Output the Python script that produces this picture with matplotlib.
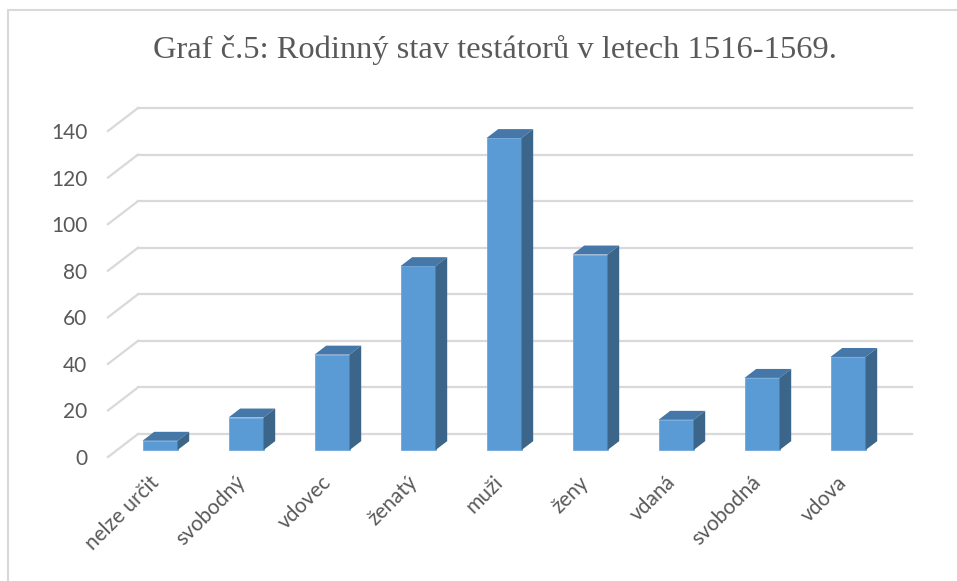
import matplotlib
matplotlib.use('agg')
import matplotlib.pyplot as plt
from matplotlib.patches import Polygon, Rectangle
from matplotlib.transforms import ScaledTranslation
import numpy as np

title = 'Graf č.5: Rodinný stav testátorů v letech 1516-1569.'
categories = ['nelze určit', 'svobodný', 'vdovec', 'ženatý', 'muži',
              'ženy', 'vdaná', 'svobodná', 'vdova']
values = [4, 14, 41, 79, 134, 84, 13, 31, 40]
yticks = [0, 20, 40, 60, 80, 100, 120, 140]

front_col = '#5b9bd5'
side_col = '#3b6589'
top_col = '#4677a9'
grid_col = '#d9d9d9'
text_col = '#595959'

W, H = 957, 581
fig = plt.figure(figsize=(W / 100, H / 100), dpi=100)
fig.patches.append(Rectangle((8 / W, -0.1), 1.2, 1 - 10 / H + 0.1, transform=fig.transFigure,
                             fill=False, edgecolor=grid_col, linewidth=1.5))

ax = fig.add_axes([108 / W, 124 / H, 774 / W, 326 / H])
ax.set_xlim(-0.5, 8.5)
ax.set_ylim(0, 140)

# 3d depth of the wall, in data units
px_x = 774 / 9
px_y = 326 / 140
dxw = 30 / px_x
dyw = 23 / px_y

# gridlines: short diagonal on the floor side + line on back wall
for v in yticks:
    ax.plot([-0.5, -0.5 + dxw], [v, v + dyw], color=grid_col, lw=1.6, clip_on=False, zorder=1)
    ax.plot([-0.5 + dxw, 8.5 + dxw], [v + dyw, v + dyw], color=grid_col, lw=1.6,
            clip_on=False, zorder=1)

# columns
t0, t1 = 0.3, 0.69
bw = 35 / px_x
x = np.arange(len(categories)) + t0 * dxw
base = t0 * dyw
ax.bar(x, values, width=bw, bottom=base, color=front_col, zorder=3, clip_on=False,
       edgecolor='#6fa8dc', linewidth=0.6)
ddx = (t1 - t0) * dxw
ddy = (t1 - t0) * dyw
for xi, v in zip(x, values):
    l, r, top = xi - bw / 2, xi + bw / 2, base + v
    ax.add_patch(Polygon([(l, top), (r, top), (r + ddx, top + ddy), (l + ddx, top + ddy)],
                         closed=True, facecolor=top_col, edgecolor='none', zorder=3,
                         clip_on=False))
    ax.add_patch(Polygon([(r, base), (r + ddx, base + ddy), (r + ddx, top + ddy), (r, top)],
                         closed=True, facecolor=side_col, edgecolor='none', zorder=3,
                         clip_on=False))

for s in ax.spines.values():
    s.set_visible(False)

ax.set_yticks(yticks)
ax.tick_params(axis='y', length=0, pad=15, labelsize=15, labelcolor=text_col)
ax.set_xticks(range(len(categories)))
ax.set_xticklabels(categories, rotation=45, ha='right', va='center', rotation_mode='anchor')
ax.tick_params(axis='x', length=0, pad=16, labelsize=15, labelcolor=text_col)
off = ScaledTranslation(5 / 100, 0, fig.dpi_scale_trans)
for lab in ax.get_xticklabels() + ax.get_yticklabels():
    lab.set_family('Lato')
for lab in ax.get_xticklabels():
    lab.set_transform(lab.get_transform() + off)

fig.text(0.5 * (153 + 837) / W, 1 - 50 / H, title, ha='center', va='center',
         family='Liberation Serif', fontsize=23.4, color=text_col)

fig.savefig('out.png', dpi=100)
